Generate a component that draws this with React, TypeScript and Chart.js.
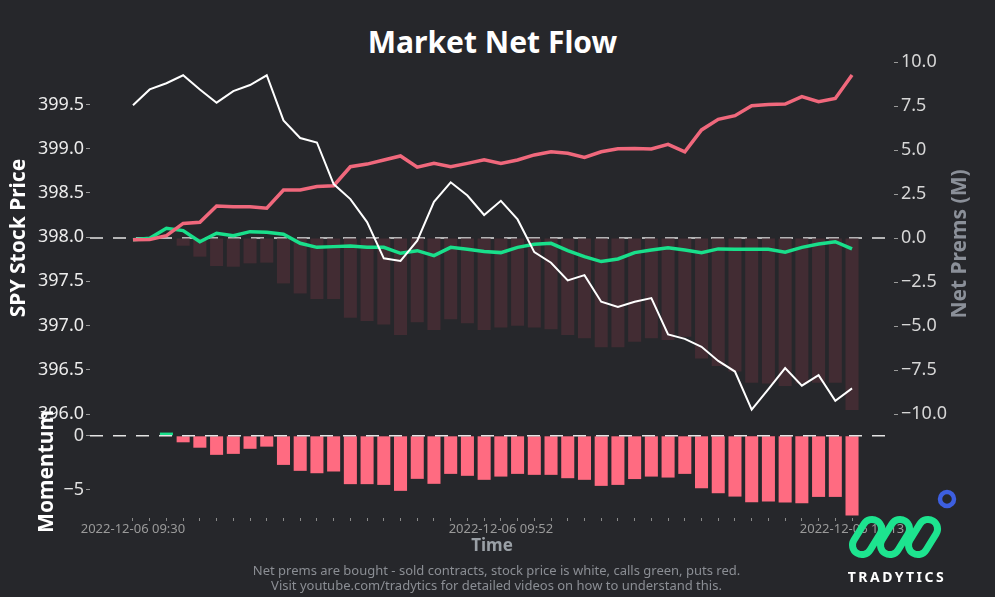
import React, { useEffect, useRef } from 'react';
import { Chart, registerables } from 'chart.js';

Chart.register(...registerables);

const DATE = '2022-12-06';
const TIMES = [
  '09:30', '09:31', '09:32', '09:33', '09:34', '09:35', '09:36', '09:37', '09:38', '09:39',
  '09:40', '09:41', '09:42', '09:43', '09:44', '09:45', '09:46', '09:47', '09:48', '09:49',
  '09:50', '09:51', '09:52', '09:53', '09:54', '09:55', '09:56', '09:57', '09:58', '09:59',
  '10:00', '10:01', '10:02', '10:03', '10:04', '10:05', '10:06', '10:07', '10:08', '10:09',
  '10:10', '10:11', '10:12', '10:13',
];
const LABEL_IDX = [0, 22, 43];

const PRICE = [
  399.49, 399.67, 399.74, 399.83, 399.67, 399.52, 399.65, 399.72, 399.83, 399.32,
  399.12, 399.07, 398.6, 398.43, 398.17, 397.76, 397.73, 397.96, 398.4, 398.62,
  398.47, 398.25, 398.41, 398.2, 397.83, 397.71, 397.51, 397.57, 397.27, 397.21,
  397.27, 397.31, 396.9, 396.85, 396.76, 396.6, 396.48, 396.05, 396.28, 396.52,
  396.32, 396.44, 396.15, 396.29,
];
const PUTS = [
  -0.1, -0.08, 0.13, 0.83, 0.89, 1.82, 1.78, 1.78, 1.69, 2.73,
  2.73, 2.92, 2.97, 4.05, 4.2, 4.43, 4.66, 4.02, 4.24, 4.05,
  4.24, 4.45, 4.24, 4.43, 4.72, 4.9, 4.81, 4.58, 4.9, 5.07,
  5.09, 5.06, 5.32, 4.9, 6.14, 6.74, 6.95, 7.52, 7.59, 7.61,
  8.03, 7.75, 7.93, 9.26,
];
const CALLS = [
  -0.1, -0.02, 0.55, 0.42, -0.21, 0.27, 0.13, 0.36, 0.32, 0.21,
  -0.3, -0.53, -0.49, -0.45, -0.53, -0.53, -0.87, -0.72, -1.0, -0.53,
  -0.64, -0.77, -0.83, -0.53, -0.36, -0.3, -0.72, -1.06, -1.34, -1.19,
  -0.83, -0.68, -0.55, -0.68, -0.83, -0.62, -0.64, -0.64, -0.64, -0.81,
  -0.53, -0.34, -0.21, -0.62,
];
const NET = [
  0, 0, 0, -0.44, -1.06, -1.59, -1.63, -1.44, -1.4, -2.58,
  -3.15, -3.47, -3.47, -4.53, -4.72, -4.91, -5.51, -4.79, -5.23, -4.62,
  -4.85, -5.23, -5.09, -4.98, -5.09, -5.19, -5.51, -5.7, -6.21, -6.21,
  -5.89, -5.7, -5.8, -5.61, -6.84, -7.27, -7.59, -8.22, -8.26, -8.41,
  -8.26, -8.22, -8.22, -9.77,
];
const MOMENTUM = [
  0, 0, 0.3, -0.6, -1.1, -1.76, -1.67, -1.2, -1.0, -2.69,
  -3.24, -3.46, -3.3, -4.47, -4.47, -4.54, -5.09, -3.98, -4.44, -3.52,
  -3.7, -4.07, -3.77, -3.52, -3.61, -3.61, -3.92, -4.07, -4.63, -4.54,
  -4.0, -3.77, -3.86, -3.52, -4.85, -5.31, -5.62, -6.14, -6.08, -6.17,
  -6.23, -5.65, -5.65, -7.38,
];

const PRICE_TICKS = [396.0, 396.5, 397.0, 397.5, 398.0, 398.5, 399.0, 399.5];
const PREM_TICKS = [-10, -7.5, -5, -2.5, 0, 2.5, 5, 7.5, 10];
const MOM_TICKS = [-5, 0];

const BG = '#26272b';
const WHITE = '#ffffff';
const RED_LINE = '#f0687c';
const GREEN = '#19df8b';
const PINK = '#ff6b81';
const BAR_DARK = '#422c33';
const FONT = '"Noto Sans", sans-serif';

const X_MIN = -2.57;
const X_MAX = 45.51;

const fmt1 = (v: number) => Number(v).toFixed(1).replace('-', '\u2212');
const fmt0 = (v: number) => String(Math.round(Number(v))).replace('-', '\u2212');

const pts = (arr: number[]) => arr.map((y, i) => ({ x: i, y }));

function zeroLine(axisId: string, after: boolean) {
  const draw = (chart: any) => {
    const { ctx, chartArea } = chart;
    const y = chart.scales[axisId].getPixelForValue(0);
    ctx.save();
    ctx.strokeStyle = '#e4e4e4';
    ctx.lineWidth = 1.6;
    ctx.setLineDash([13, 10]);
    ctx.beginPath();
    ctx.moveTo(chartArea.left, y);
    ctx.lineTo(chartArea.right, y);
    ctx.stroke();
    ctx.restore();
  };
  return after
    ? { id: 'zero_' + axisId, afterDatasetsDraw: draw }
    : { id: 'zero_' + axisId, beforeDatasetsDraw: draw };
}

const rightTitle = {
  id: 'rightTitle',
  afterDraw(chart: any) {
    const { ctx, chartArea } = chart;
    ctx.save();
    ctx.translate(chartArea.right + 66, (chartArea.top + chartArea.bottom) / 2 + 6);
    ctx.rotate(-Math.PI / 2);
    ctx.font = `bold 21px ${FONT}`;
    ctx.fillStyle = '#8b9099';
    ctx.textAlign = 'center';
    ctx.textBaseline = 'middle';
    ctx.fillText('Net Prems (M)', 0, 0);
    ctx.restore();
  },
};

export default function App() {
  const topRef = useRef<HTMLCanvasElement>(null);
  const botRef = useRef<HTMLCanvasElement>(null);

  useEffect(() => {
    Chart.defaults.font.family = FONT;
    const top = new Chart(topRef.current as HTMLCanvasElement, {
      type: 'bar',
      data: {
        datasets: [
          {
            type: 'line',
            data: pts(PRICE),
            yAxisID: 'yPrice',
            borderColor: WHITE,
            borderWidth: 2,
            pointRadius: 0,
            tension: 0,
            order: 0,
          } as any,
          {
            type: 'line',
            data: pts(PUTS),
            yAxisID: 'yPrem',
            borderColor: RED_LINE,
            borderWidth: 3.5,
            pointRadius: 0,
            tension: 0,
            order: 1,
          },
          {
            type: 'line',
            data: pts(CALLS),
            yAxisID: 'yPrem',
            borderColor: GREEN,
            borderWidth: 3.5,
            pointRadius: 0,
            tension: 0,
            order: 2,
          },
          {
            type: 'bar',
            data: pts(NET),
            yAxisID: 'yPrem',
            backgroundColor: BAR_DARK,
            borderWidth: 0,
            barPercentage: 1,
            categoryPercentage: 0.78,
            order: 3,
          },
        ],
      },
      options: {
        animation: false,
        responsive: false,
        layout: { padding: { top: 62, bottom: 16, left: 0, right: 0 } },
        plugins: { legend: { display: false }, tooltip: { enabled: false } },
        scales: {
          x: {
            type: 'linear',
            min: X_MIN,
            max: X_MAX,
            offset: false,
            grid: { offset: false },
            afterBuildTicks: (s: any) => { s.ticks = TIMES.map((_, i) => ({ value: i })); },
            display: false,
          },
          yPrice: {
            position: 'left',
            min: 396.0,
            max: 399.98,
            afterFit: (s: any) => { s.width = 90; },
            afterBuildTicks: (s: any) => { s.ticks = PRICE_TICKS.map((v) => ({ value: v })); },
            ticks: { color: '#ececec', font: { size: 18 }, padding: 2, callback: (v: any) => fmt1(v) },
            grid: { drawOnChartArea: false, drawTicks: true, tickLength: 4, color: '#9a9a9a' },
            border: { display: false },
            title: {
              display: true,
              text: 'SPY Stock Price',
              color: '#ffffff',
              font: { size: 21, weight: 'bold' },
              padding: { top: 6, bottom: 0 },
            },
          },
          yPrem: {
            position: 'right',
            min: -10,
            max: 10,
            afterFit: (s: any) => { s.width = 101; },
            afterBuildTicks: (s: any) => { s.ticks = PREM_TICKS.map((v) => ({ value: v })); },
            ticks: { color: '#d6d6d6', font: { size: 18 }, padding: 3, callback: (v: any) => fmt1(v) },
            grid: { drawOnChartArea: false, drawTicks: true, tickLength: 4, color: '#9a9a9a' },
            border: { display: false },
          },
        },
      } as any,
      plugins: [zeroLine('yPrem', false), rightTitle],
    });

    const bot = new Chart(botRef.current as HTMLCanvasElement, {
      type: 'bar',
      data: {
        datasets: [
          {
            data: pts(MOMENTUM),
            yAxisID: 'yMom',
            backgroundColor: MOMENTUM.map((v) => (v >= 0 ? GREEN : PINK)),
            borderWidth: 0,
            barPercentage: 1,
            categoryPercentage: 0.78,
          },
        ],
      },
      options: {
        animation: false,
        responsive: false,
        layout: { padding: { top: 15, bottom: 0, left: 0, right: 101 } },
        plugins: { legend: { display: false }, tooltip: { enabled: false } },
        scales: {
          x: {
            type: 'linear',
            min: X_MIN,
            max: X_MAX,
            offset: false,
            afterFit: (s: any) => { s.height = 42; },
            afterBuildTicks: (s: any) => { s.ticks = TIMES.map((_, i) => ({ value: i })); },
            ticks: {
              autoSkip: false,
              maxRotation: 0,
              minRotation: 0,
              color: '#9a9a9a',
              font: { size: 13 },
              padding: 0,
              callback: (v: any) => (LABEL_IDX.includes(Number(v)) ? `${DATE} ${TIMES[Number(v)]}` : ''),
            },
            grid: { offset: false, drawOnChartArea: false, drawTicks: true, tickLength: 3, color: '#8a8a8a' },
            border: { display: false },
            title: {
              display: true,
              text: 'Time',
              color: '#9aa0a6',
              font: { size: 17, weight: 'bold' },
              padding: { top: 0, bottom: 4 },
            },
          },
          yMom: {
            position: 'left',
            min: -7.6,
            max: 1.0,
            afterFit: (s: any) => { s.width = 90; },
            afterBuildTicks: (s: any) => { s.ticks = MOM_TICKS.map((v) => ({ value: v })); },
            ticks: { color: '#e0e0e0', font: { size: 18 }, padding: 2, callback: (v: any) => fmt0(v) },
            grid: { drawOnChartArea: false, drawTicks: true, tickLength: 4, color: '#9a9a9a' },
            border: { display: false },
            title: {
              display: true,
              text: 'Momentum',
              color: '#ffffff',
              font: { size: 21, weight: 'bold' },
              padding: { top: 34, bottom: 0 },
            },
          },
        },
      } as any,
      plugins: [zeroLine('yMom', true)],
    });

    return () => {
      top.destroy();
      bot.destroy();
    };
  }, []);

  return (
    <div
      style={{
        position: 'fixed',
        left: 0,
        top: 0,
        width: 995,
        height: 597,
        background: BG,
        overflow: 'hidden',
        fontFamily: FONT,
      }}
    >
      <div
        style={{
          position: 'absolute',
          left: 0,
          top: 26,
          width: 985,
          textAlign: 'center',
          color: '#ffffff',
          fontWeight: 'bold',
          fontSize: 30,
          lineHeight: '32px',
        }}
      >
        Market Net Flow
      </div>
      <canvas
        ref={topRef}
        width={995}
        height={430}
        style={{ position: 'absolute', left: 0, top: 0, width: 995, height: 430 }}
      />
      <canvas
        ref={botRef}
        width={995}
        height={150}
        style={{ position: 'absolute', left: 0, top: 410, width: 995, height: 150 }}
      />
      <div
        style={{
          position: 'absolute',
          left: 0,
          top: 563,
          width: 993,
          textAlign: 'center',
          color: '#8b8e94',
          fontSize: 13,
          lineHeight: '15px',
        }}
      >
        <div>Net prems are bought - sold contracts, stock price is white, calls green, puts red.</div>
        <div>Visit youtube.com/tradytics for detailed videos on how to understand this.</div>
      </div>
      <svg
        width={160}
        height={117}
        style={{ position: 'absolute', left: 835, top: 480 }}
      >
        {[32, 60, 88].map((cx) => (
          <rect
            key={cx}
            x={-9.5}
            y={-19}
            width={19}
            height={38}
            rx={9.5}
            fill="none"
            stroke="#1de48f"
            strokeWidth={7}
            transform={`translate(${cx},57) rotate(32)`}
          />
        ))}
        <circle cx={112} cy={19} r={7} fill="none" stroke="#3d5fe0" strokeWidth={4.5} />
        <text
          x={62}
          y={102}
          textAnchor="middle"
          fill="#ffffff"
          fontFamily={FONT}
          fontWeight="bold"
          fontSize={14}
          letterSpacing={2.5}
        >
          TRADYTICS
        </text>
      </svg>
    </div>
  );
}
